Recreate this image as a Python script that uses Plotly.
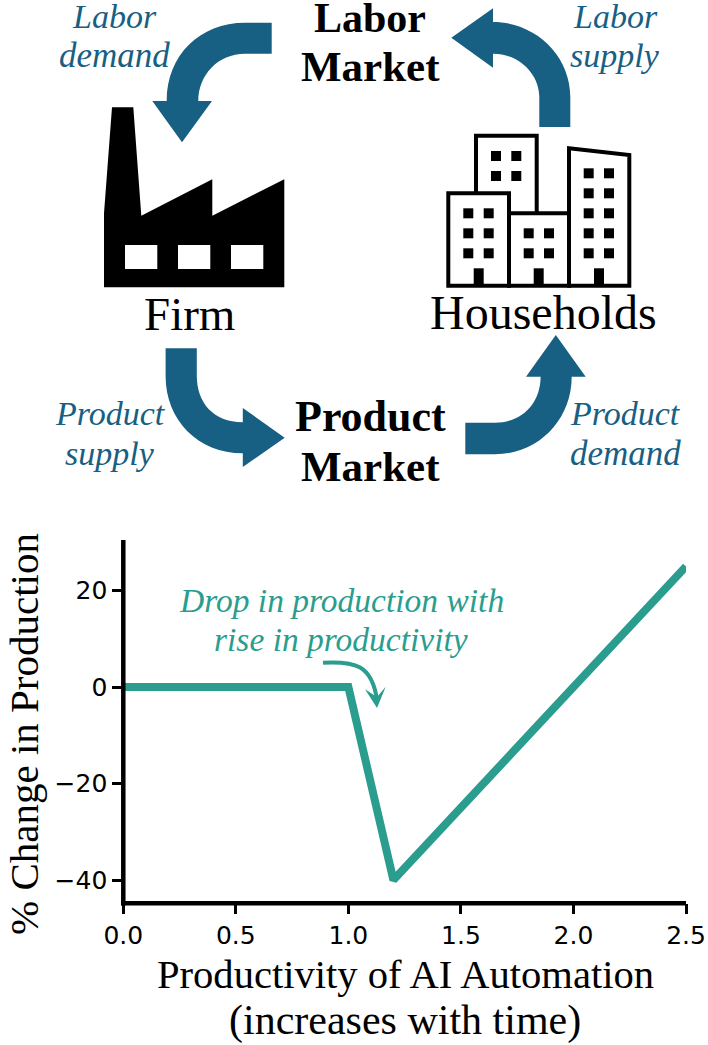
import plotly.graph_objects as go

# production curve
productivity = [0.0, 1.0, 1.2, 2.5]
production_change = [0, 0, -40, 25]

x_ticks = [0.0, 0.5, 1.0, 1.5, 2.0, 2.5]
x_tick_labels = ["0.0", "0.5", "1.0", "1.5", "2.0", "2.5"]
y_ticks = [-40, -20, 0, 20]

BLUE = "#176083"
TEAL = "#2a9d8f"
SERIF = "Liberation Serif"
W, H = 708, 1045


def box(x0, y0, x1, y1):
    return f"M {x0} {y0} L {x1} {y0} L {x1} {y1} L {x0} {y1} Z"


def add_path(fig, path, fill="black", line=None, width=0):
    # the diagram is drawn on a hidden axis pair that runs in page pixels
    fig.add_shape(type="path", path=path, xref="x2", yref="y2",
                  fillcolor=fill, line=dict(color=line or fill, width=width))


def add_text(fig, x, y, text, size, color="black", bold=False, italic=False, angle=0, family=SERIF):
    fig.add_annotation(x=x, y=y, xref="x2", yref="y2", text=text, showarrow=False,
                       textangle=angle, xanchor="center", yanchor="middle",
                       font=dict(family=family, size=size, color=color,
                                 weight="bold" if bold else "normal",
                                 style="italic" if italic else "normal"))


def add_stroke_box(fig, path):
    fig.add_shape(type="path", path=path, xref="x2", yref="y2",
                  fillcolor="rgba(0,0,0,0)", line=dict(color="black", width=4))


fig = go.Figure()

fig.add_trace(go.Scatter(x=productivity, y=production_change, mode="lines",
                         line=dict(color=TEAL, width=8), hoverinfo="skip"))

# flow arrows
add_path(fig, "M 271.7 22.7 L 245 22.7 C 200 22.7 166.7 55 166.7 101 L 152.3 101 L 182 142.3 L 212 101 "
              "L 198.3 101 C 198.3 75 218 53.7 245 53.7 L 271.7 53.7 Z", BLUE)
add_path(fig, "M 539.3 127 L 570.3 127 L 570.3 97 C 570.3 55 535 22 493 22 L 493 8.3 L 451.3 37.7 L 493 67.7 "
              "L 493 53.7 C 520 53.7 539.3 75 539.3 97 Z", BLUE)
add_path(fig, "M 165.6 348.3 L 196.8 348.3 L 196.8 376 C 196.8 402 213 422.3 242.8 422.3 L 242.8 408 "
              "L 284.7 437.7 L 242.8 467 L 242.8 453.3 C 198 453.3 165.6 420 165.6 376 Z", BLUE)
add_path(fig, "M 465.3 422.7 L 495 422.7 C 522 422.7 540.6 403 540.6 376.7 L 526 376.7 L 555.8 335 "
              "L 585.7 376.7 L 571.7 376.7 C 571.7 420 538 454.3 495 454.3 L 465.3 454.3 Z", BLUE)

# factory
add_path(fig, "M 104 287.3 L 104 213.3 L 112 107.3 L 133.3 107.3 L 141.3 215.7 L 212.3 179.3 L 212.3 215.7 "
              "L 284.3 179.3 L 284.3 287.3 Z")
for wx in [125, 178, 231]:
    add_path(fig, box(wx, 245, wx + 32.3, 269), "white")

# households
add_stroke_box(fig, "M 476 193.3 L 476 135.7 L 536.7 135.7 L 536.7 213.3")
add_stroke_box(fig, box(448.3, 193.3, 509, 285.7))
add_stroke_box(fig, box(509, 213.3, 569, 285.7))
add_stroke_box(fig, "M 569 285.7 L 569 148.3 L 629.3 155 L 629.3 285.7 Z")
for cols, rows in [([496, 516.3], [156, 176]),
                   ([468.3, 488.7], [213.3, 233.3, 253.3]),
                   ([528.7, 549], [233.3, 253.3]),
                   ([588.7, 609], [173.3, 193.3, 213.3, 233.3, 253.3])]:
    for cx in cols:
        for cy in rows:
            add_path(fig, box(cx - 5, cy - 5, cx + 5, cy + 5))
for dx in [473.7, 533.7, 594]:
    add_path(fig, box(dx, 268.3, dx + 10, 285.7))

# diagram text
add_text(fig, 370, 18, "Labor", 42, bold=True)
add_text(fig, 370, 66, "Market", 43, bold=True)
add_text(fig, 370, 416, "Product", 44, bold=True)
add_text(fig, 370, 466, "Market", 43, bold=True)
add_text(fig, 189, 314, "Firm", 47)
add_text(fig, 543, 312, "Households", 48)
add_text(fig, 114, 16, "Labor", 34, BLUE, italic=True)
add_text(fig, 114, 55, "demand", 35, BLUE, italic=True)
add_text(fig, 615, 16, "Labor", 34, BLUE, italic=True)
add_text(fig, 615, 55, "supply", 34, BLUE, italic=True)
add_text(fig, 110, 413, "Product", 34, BLUE, italic=True)
add_text(fig, 110, 453, "supply", 34, BLUE, italic=True)
add_text(fig, 625, 413, "Product", 34, BLUE, italic=True)
add_text(fig, 625, 453, "demand", 35, BLUE, italic=True)

# chart note and its little arrow
add_text(fig, 341.5, 600, "Drop in production with", 33.5, TEAL, italic=True)
add_text(fig, 341, 639, "rise in productivity", 33.5, TEAL, italic=True)
fig.add_shape(type="path", path="M 323 662.7 C 355 661 372 665 377 700", xref="x2", yref="y2",
              fillcolor="rgba(0,0,0,0)", line=dict(color=TEAL, width=4))
add_path(fig, "M 377 708 L 365 689.3 L 377 697 L 385.7 686.7 Z", TEAL)

# axis titles
add_text(fig, 405, 974, "Productivity of AI Automation", 40.6)
add_text(fig, 405, 1020, "(increases with time)", 42)
add_text(fig, 24, 734, "% Change in Production", 41, angle=-90)

# spines sit centred on the plot edge
fig.add_shape(type="line", x0=123.3, x1=123.3, y0=540, y1=905.6, xref="x2", yref="y2",
              line=dict(color="black", width=4.5))
fig.add_shape(type="line", x0=121, x1=686, y0=903.3, y1=903.3, xref="x2", yref="y2",
              line=dict(color="black", width=4.5))

fig.update_layout(
    width=W, height=H,
    margin=dict(l=0, r=0, t=0, b=0, pad=0),
    paper_bgcolor="white", plot_bgcolor="rgba(0,0,0,0)",
    showlegend=False,
    xaxis=dict(domain=[123.3 / W, 686 / W], range=[0, 2.5], anchor="y", automargin=False,
               tickmode="array", tickvals=x_ticks, ticktext=x_tick_labels,
               ticks="outside", ticklen=10, tickwidth=2.5, tickcolor="black",
               showgrid=False, zeroline=False, showline=False,
               tickfont=dict(family="DejaVu Sans", size=25, color="black")),
    yaxis=dict(domain=[(H - 903.3) / H, (H - 540) / H], range=[-44.83, 30.47], anchor="x", automargin=False,
               tickmode="array", tickvals=y_ticks,
               ticks="outside", ticklen=10, tickwidth=2.5, tickcolor="black",
               showgrid=False, zeroline=False, showline=False,
               tickfont=dict(family="DejaVu Sans", size=25, color="black")),
    xaxis2=dict(domain=[0, 1], range=[0, W], anchor="y2", visible=False, fixedrange=True, automargin=False),
    yaxis2=dict(domain=[0, 1], range=[H, 0], anchor="x2", visible=False, fixedrange=True, automargin=False),
)

fig.write_html("out.html", config=dict(displayModeBar=False),
               post_script="document.body.style.margin = '0';")
